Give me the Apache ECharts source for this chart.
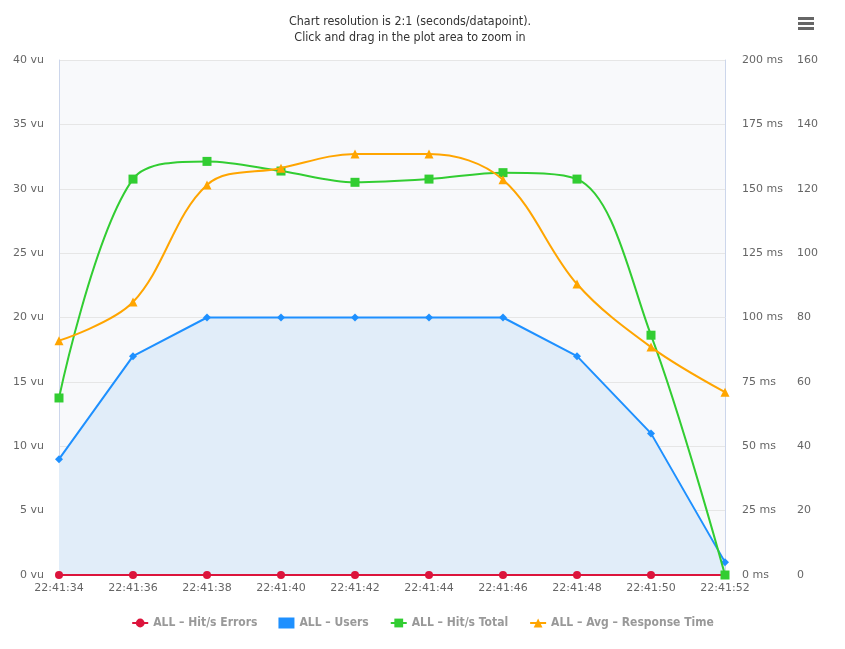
<!DOCTYPE html>
<html><head><meta charset="utf-8">
<script src="https://cdn.jsdelivr.net/npm/echarts@6/dist/echarts.min.js"></script>
<style>html,body{margin:0;padding:0;background:#fff}#c{width:845px;height:649px}</style>
</head><body><div id="c"></div>
<script>
const categories = ['22:41:34','22:41:36','22:41:38','22:41:40','22:41:42','22:41:44','22:41:46','22:41:48','22:41:50','22:41:52'];
const hitErrors = [0,0,0,0,0,0,0,0,0,0];
const users = [9,17,20,20,20,20,20,17,11,1];
const hitTotal = [55,123,128.5,125.5,122,123,125,123,74.5,0];
const avgResponse = [91,106,151.5,158,163.5,163.5,153.5,113,88.5,71];
const titleLines = ['Chart resolution is 2:1 (seconds/datapoint).', 'Click and drag in the plot area to zoom in'];

const FONT = 'DejaVu Sans, Verdana, sans-serif';
const COND = 'DejaVu Sans Condensed, DejaVu Sans, sans-serif';
const chart = echarts.init(document.getElementById('c'));
const lab = {color:'#666', fontSize:11, fontFamily:FONT};
chart.setOption({
  animation:false,
  backgroundColor:'#fff',
  graphic:[
    {type:'text', x:410, y:22, style:{text:titleLines[0], fill:'#333', font:'12.4px ' + COND, align:'center', verticalAlign:'middle'}},
    {type:'text', x:410, y:38, style:{text:titleLines[1], fill:'#333', font:'12.4px ' + COND, align:'center', verticalAlign:'middle'}},
    {type:'rect', shape:{x:798,y:17,width:16,height:3}, style:{fill:'#666'}},
    {type:'rect', shape:{x:798,y:22,width:16,height:3}, style:{fill:'#666'}},
    {type:'rect', shape:{x:798,y:27,width:16,height:3}, style:{fill:'#666'}}
  ],
  grid:{left:59, right:120, top:60, bottom:74, show:true, backgroundColor:'#f8f9fb', borderWidth:0},
  legend:{
    bottom:15, left:'center', itemWidth:16, itemHeight:11, itemGap:21,
    textStyle:{color:'#999', fontSize:12, fontWeight:'bold', fontFamily:COND},
    data:[
      {name:'ALL – Hit/s Errors'},
      {name:'ALL – Users', icon:'rect'},
      {name:'ALL – Hit/s Total'},
      {name:'ALL – Avg – Response Time'}
    ]
  },
  xAxis:{
    type:'category', data:categories, boundaryGap:false,
    axisLine:{lineStyle:{color:'#ccd6eb'}},
    axisTick:{show:false},
    axisLabel:Object.assign({margin:8, interval:0}, lab),
    splitLine:{show:false}
  },
  yAxis:[
    {type:'value', min:0, max:40, interval:5, position:'left',
     axisLabel:Object.assign({formatter:'{value} vu', margin:15}, lab),
     axisLine:{show:true, lineStyle:{color:'#ccd6eb'}}, axisTick:{show:false},
     splitLine:{lineStyle:{color:'#e6e6e6'}}},
    {type:'value', min:0, max:200, interval:25, position:'right',
     axisLabel:Object.assign({formatter:'{value} ms', margin:17}, lab),
     axisLine:{show:true, lineStyle:{color:'#ccd6eb'}}, axisTick:{show:false},
     splitLine:{show:false}},
    {type:'value', min:0, max:160, interval:20, position:'right', offset:56,
     axisLabel:Object.assign({margin:16}, lab),
     axisLine:{show:false}, axisTick:{show:false},
     splitLine:{show:false}}
  ],
  series:[
    {name:'ALL – Users', type:'line', yAxisIndex:0, data:users,
     symbol:'diamond', symbolSize:8, showAllSymbol:true,
     itemStyle:{color:'#1E90FF'}, lineStyle:{color:'#1E90FF', width:2},
     areaStyle:{color:'#e1edf9', opacity:1}, z:2},
    {name:'ALL – Hit/s Errors', type:'line', yAxisIndex:2, data:hitErrors,
     symbol:'circle', symbolSize:8, itemStyle:{color:'#DC143C'}, lineStyle:{color:'#DC143C', width:2}, z:3},
    {name:'ALL – Hit/s Total', type:'line', yAxisIndex:2, data:hitTotal, smooth:0.35,
     symbol:'rect', symbolSize:9, itemStyle:{color:'#32CD32'}, lineStyle:{color:'#32CD32', width:2}, z:4},
    {name:'ALL – Avg – Response Time', type:'line', yAxisIndex:1, data:avgResponse, smooth:0.35,
     symbol:'triangle', symbolSize:9, itemStyle:{color:'#FFA500'}, lineStyle:{color:'#FFA500', width:2}, z:5}
  ]
});
</script></body></html>
